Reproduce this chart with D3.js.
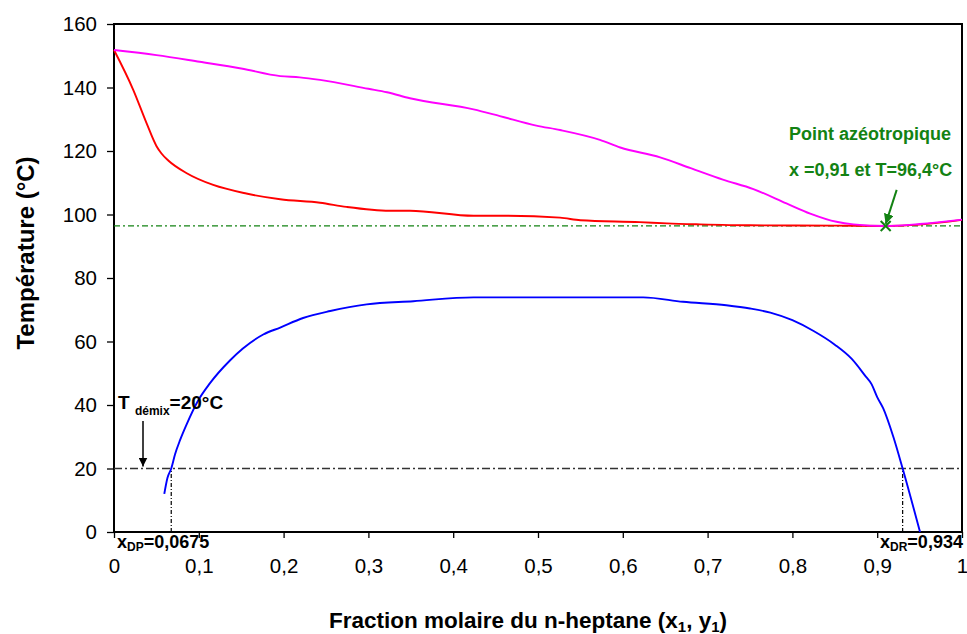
<!DOCTYPE html>
<html><head><meta charset="utf-8">
<script src="https://cdn.jsdelivr.net/npm/d3@7"></script>
<style>
body{margin:0;background:#fff;}
text{font-family:"Liberation Sans",Arial,sans-serif;}
</style></head>
<body><svg id="c" width="967" height="634"></svg>
<script>
// ---- data ----
const dewX = [0, 0.05, 0.101, 0.15, 0.196, 0.219, 0.243, 0.3, 0.322, 0.349, 0.424, 0.455, 0.498, 0.526, 0.573, 0.597, 0.644, 0.68, 0.718, 0.754, 0.793, 0.821, 0.852, 0.872, 0.91, 0.95, 1.0];
const dewT = [151.8, 150.2, 148.1, 146.0, 143.6, 143.2, 142.4, 139.6, 138.5, 136.6, 133.1, 131.0, 128.0, 126.6, 123.5, 121.1, 118.0, 114.6, 111.0, 108.0, 103.5, 100.3, 97.7, 96.9, 96.4, 97.0, 98.4];
const bubX = [0, 0.0228, 0.0385, 0.05, 0.056, 0.064, 0.0858, 0.117, 0.156, 0.196, 0.243, 0.274, 0.325, 0.349, 0.424, 0.455, 0.526, 0.55, 0.62, 0.652, 0.691, 0.75, 0.85, 0.91, 0.95, 1.0];
const bubT = [151.8, 139.2, 128.7, 121.6, 119.2, 117.0, 113.0, 109.3, 106.6, 104.8, 103.7, 102.4, 101.2, 101.2, 99.6, 99.6, 99.0, 98.2, 97.6, 97.2, 96.9, 96.6, 96.5, 96.4, 96.8, 98.3];
const lleX = [0.0593, 0.063, 0.0675, 0.072, 0.078, 0.085, 0.0994, 0.113, 0.137, 0.152, 0.176, 0.196, 0.223, 0.255, 0.298, 0.353, 0.424, 0.624, 0.671, 0.722, 0.75, 0.774, 0.8, 0.825, 0.85, 0.87, 0.885, 0.8935, 0.9, 0.907, 0.919, 0.93, 0.9505];
const lleT = [12.0, 17.0, 20, 24.5, 29, 33.5, 41.5, 46.8, 54.1, 57.8, 62.2, 64.4, 67.4, 69.6, 71.7, 72.7, 73.9, 73.9, 72.5, 71.4, 70.4, 69.1, 66.7, 63.3, 59, 54.5, 49.5, 46.5, 42.5, 39, 30, 20, 0];
const azeoX = 0.91, azeoT = 96.4;
const demixT = 20;
const demixX = [0.0675, 0.93];
const xTicks = [0, 0.1, 0.2, 0.3, 0.4, 0.5, 0.6, 0.7, 0.8, 0.9, 1];
const yTicks = [0, 20, 40, 60, 80, 100, 120, 140, 160];

// ---- layout ----
const svg = d3.select("#c");
const L = 114, R = 962, T = 24, B = 532;
const x = d3.scaleLinear().domain([0, 1]).range([L, R]);
const y = d3.scaleLinear().domain([0, 160]).range([B, T]);
const fmt = d => String(d).replace(".", ",");

// axes
const ya = svg.append("g").attr("transform", `translate(${L},0)`)
  .call(d3.axisLeft(y).tickValues(yTicks).tickSize(7).tickPadding(10).tickFormat(d => d));
const xa = svg.append("g").attr("transform", `translate(0,${B})`)
  .call(d3.axisBottom(x).tickValues(xTicks).tickSize(6).tickPadding(20).tickFormat(fmt));
[ya, xa].forEach(g => {
  g.selectAll("text").attr("font-size", 20.5).attr("fill", "#000").attr("font-family", '"Liberation Sans",Arial,sans-serif');
  g.selectAll("line").attr("stroke", "#000").attr("stroke-width", 1.3);
  g.select(".domain").remove();
});
// frame
svg.append("rect").attr("x", L).attr("y", T).attr("width", R - L).attr("height", B - T)
  .attr("fill", "none").attr("stroke", "#000").attr("stroke-width", 2);

// reference lines
svg.append("line").attr("x1", L).attr("x2", R).attr("y1", y(demixT)).attr("y2", y(demixT))
  .attr("stroke", "#333").attr("stroke-width", 1.3).attr("stroke-dasharray", "8,3,2,3");
svg.append("line").attr("x1", L).attr("x2", R).attr("y1", y(azeoT)).attr("y2", y(azeoT))
  .attr("stroke", "#138213").attr("stroke-width", 1.3).attr("stroke-dasharray", "6,3,2,3");
demixX.forEach(v => {
  svg.append("line").attr("x1", x(v)).attr("x2", x(v)).attr("y1", y(0)).attr("y2", y(demixT))
    .attr("stroke", "#000").attr("stroke-width", 1.2).attr("stroke-dasharray", "4,2,1,2");
});

// curves
const line = d3.line().x(d => x(d[0])).y(d => y(d[1])).curve(d3.curveMonotoneX);
const zip = (a, b) => a.map((v, i) => [v, b[i]]);
svg.append("path").attr("d", line(zip(bubX, bubT))).attr("fill", "none").attr("stroke", "#ff0000").attr("stroke-width", 1.9);
svg.append("path").attr("d", line(zip(dewX, dewT))).attr("fill", "none").attr("stroke", "#ff00ff").attr("stroke-width", 1.9);
svg.append("path").attr("d", line(zip(lleX, lleT))).attr("fill", "none").attr("stroke", "#0000ff").attr("stroke-width", 1.9);

// azeotrope marker
const green = "#138213";
const ax = x(azeoX), ay = y(azeoT), s = 5;
svg.append("path").attr("d", `M${ax - s},${ay - s}L${ax + s},${ay + s}M${ax - s},${ay + s}L${ax + s},${ay - s}`)
  .attr("stroke", green).attr("stroke-width", 2);

// arrows
svg.append("defs").html(
  '<marker id="ag" viewBox="0 0 10 10" refX="10" refY="5" markerWidth="5" markerHeight="5" orient="auto"><path d="M0,0L10,5L0,10z" fill="#138213"/></marker>' +
  '<marker id="ab" viewBox="0 0 10 10" refX="10" refY="5" markerWidth="6" markerHeight="6" orient="auto"><path d="M0,0L10,5L0,10z" fill="#000"/></marker>');
svg.append("line").attr("x1", ax + 11).attr("y1", ay - 36).attr("x2", ax).attr("y2", ay - 2)
  .attr("stroke", green).attr("stroke-width", 2).attr("marker-end", "url(#ag)");
svg.append("line").attr("x1", 143).attr("y1", 421).attr("x2", 143).attr("y2", y(demixT) - 2)
  .attr("stroke", "#000").attr("stroke-width", 1.5).attr("marker-end", "url(#ab)");

// annotations
svg.append("text").attr("x", 789).attr("y", 140).attr("font-size", 18).attr("font-weight", "bold").attr("fill", green).text("Point azéotropique");
svg.append("text").attr("x", 789).attr("y", 176).attr("font-size", 18).attr("font-weight", "bold").attr("fill", green).text("x =0,91 et T=96,4°C");

const t1 = svg.append("text").attr("x", 118).attr("y", 409).attr("font-size", 19).attr("font-weight", "bold");
t1.append("tspan").text("T ");
t1.append("tspan").attr("font-size", 12).attr("dy", 6).text("démix");
t1.append("tspan").attr("dy", -6).text("=20°C");

const t2 = svg.append("text").attr("x", 117).attr("y", 548).attr("font-size", 18).attr("font-weight", "bold");
t2.append("tspan").text("x");
t2.append("tspan").attr("font-size", 12).attr("dy", 3).text("DP");
t2.append("tspan").attr("dy", -3).text("=0,0675");

const t3 = svg.append("text").attr("x", 880).attr("y", 548).attr("font-size", 18).attr("font-weight", "bold");
t3.append("tspan").text("x");
t3.append("tspan").attr("font-size", 12).attr("dy", 3).text("DR");
t3.append("tspan").attr("dy", -3).text("=0,934");

// axis titles
const xt = svg.append("text").attr("x", 528).attr("y", 628).attr("text-anchor", "middle").attr("font-size", 22.5).attr("font-weight", "bold");
xt.append("tspan").text("Fraction molaire du n-heptane (x");
xt.append("tspan").attr("font-size", 15).attr("dy", 4).text("1");
xt.append("tspan").attr("dy", -4).text(", y");
xt.append("tspan").attr("font-size", 15).attr("dy", 4).text("1");
xt.append("tspan").attr("dy", -4).text(")");

svg.append("text").attr("transform", "translate(34,253) rotate(-90)").attr("text-anchor", "middle")
  .attr("font-size", 24).attr("font-weight", "bold").text("Température (°C)");
</script></body></html>
